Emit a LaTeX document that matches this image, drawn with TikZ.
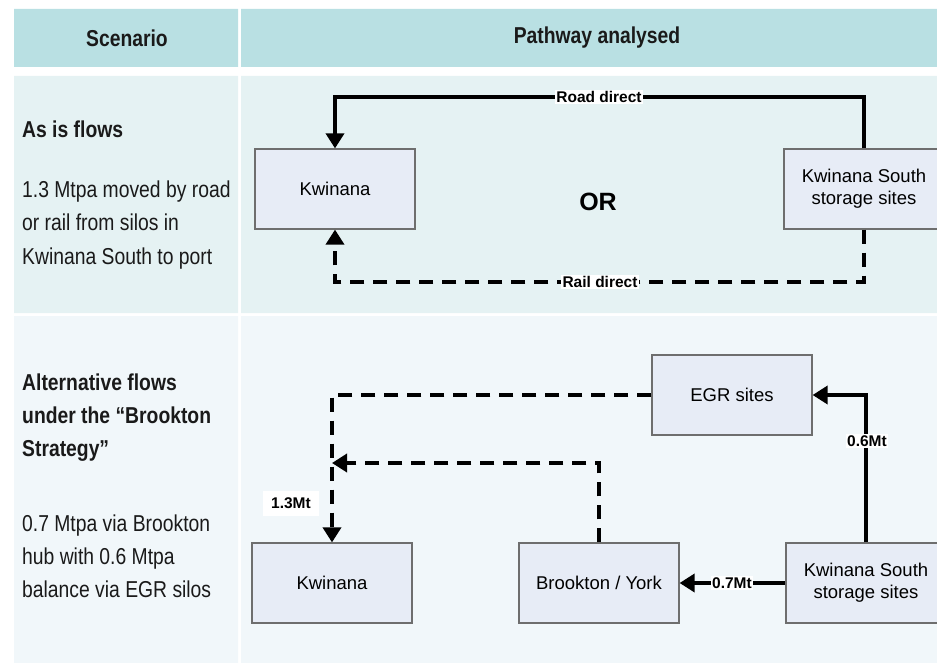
\documentclass[tikz,border=0pt]{standalone}
\usepackage{fontspec}
\setmainfont{Liberation Sans}
\newfontfamily\narrowfont{Liberation Sans}[FakeStretch=0.84]
\usetikzlibrary{arrows.meta}
\definecolor{headteal}{HTML}{B9E0E3}
\definecolor{rowone}{HTML}{E5F2F3}
\definecolor{rowtwo}{HTML}{F1F7FA}
\definecolor{sitefill}{HTML}{E7ECF6}
\definecolor{siteline}{HTML}{6E6E6E}
\definecolor{ink}{HTML}{1A1A1A}

\begin{document}
\begin{tikzpicture}
  [x=1pt,y=-1pt,
   site/.style={draw=siteline,fill=sitefill,line width=1.2pt,minimum width=160pt,
     minimum height=80pt,align=center,font=\fontsize{18.5}{22}\selectfont},
   flowlabel/.style={fill=white,inner sep=1.5pt,font=\bfseries\fontsize{15.5}{17}\selectfont},
   road/.style={line width=3.5pt,-{Triangle[length=15pt,width=18pt]}},
   rail/.style={road,dash pattern=on 14pt off 9pt},
   scen/.style={anchor=base west,inner sep=0pt,text=ink,font=\narrowfont\fontsize{23}{33}\selectfont},
   scenhead/.style={scen,font=\narrowfont\bfseries\fontsize{23}{33}\selectfont},
   head/.style={scenhead,anchor=center}]
  \useasboundingbox (0,0) rectangle (937,663);

  % table cells
  \fill[headteal] (14,9) rectangle (238,67) (241,9) rectangle (937,67);
  \fill[rowone] (14,76) rectangle (238,313) (241,76) rectangle (937,313);
  \fill[rowtwo] (14,316) rectangle (238,663) (241,316) rectangle (937,663);
  \node[head] (hscen) at (127,38) {Scenario};
  \node[head] (hpath) at (597,38) {Pathway analysed};

  % scenario texts
  \foreach \n/\y/\t in {h1/138/{As is flows},h2/390/{Alternative flows},
      h3/423/{under the “Brookton},h4/456/{Strategy”}}
    \node[scenhead] (\n) at (22,\y) {\t};
  \foreach \n/\y/\t in {t1/198/{1.3 Mtpa moved by road},t2/231/{or rail from silos in},
      t3/264/{Kwinana South to port},t4/531/{0.7 Mtpa via Brookton},
      t5/564/{hub with 0.6 Mtpa},t6/597/{balance via EGR silos}}
    \node[scen] (\n) at (22,\y) {\t};

  % as is flows
  \node[site] (kw1) at (335,189) {Kwinana};
  \node[site] (ks1) at (864,189) {Kwinana South\\storage sites};
  \node[font=\bfseries\fontsize{25}{28}\selectfont] (or) at (598,202) {OR};
  \coordinate (roadc) at (599,97);
  \coordinate (railc) at (600,282);
  \draw[road] (ks1.north) |- (roadc) -| (kw1.north);
  \draw[rail] (ks1.south) |- (railc) -| (kw1.south);
  \node[flowlabel] (roadlbl) at (roadc) {Road direct};
  \node[flowlabel] (raillbl) at (railc) {Rail direct};

  % brookton strategy
  \node[site] (egr) at (732,395) {EGR sites};
  \node[site] (kw2) at (332,583) {Kwinana};
  \node[site] (bk)  at (599,583) {Brookton / York};
  \node[site] (ks2) at (866,583) {Kwinana South\\storage sites};
  \coordinate (hub) at (332,463);
  \draw[road] (ks2.north) |- (egr.east);
  \draw[road] (ks2.west) -- (bk.east);
  \draw[rail] (egr.west) -| (kw2.north);
  \draw[rail] (bk.north) |- (hub);
  \node[flowlabel] (egrlbl) at (867,441) {0.6Mt};
  \node[flowlabel] (bklbl) at (732,583) {0.7Mt};
  \node[flowlabel,inner xsep=8pt,inner ysep=7pt] (kwlbl) at (291,503) {1.3Mt};
\end{tikzpicture}
\end{document}
